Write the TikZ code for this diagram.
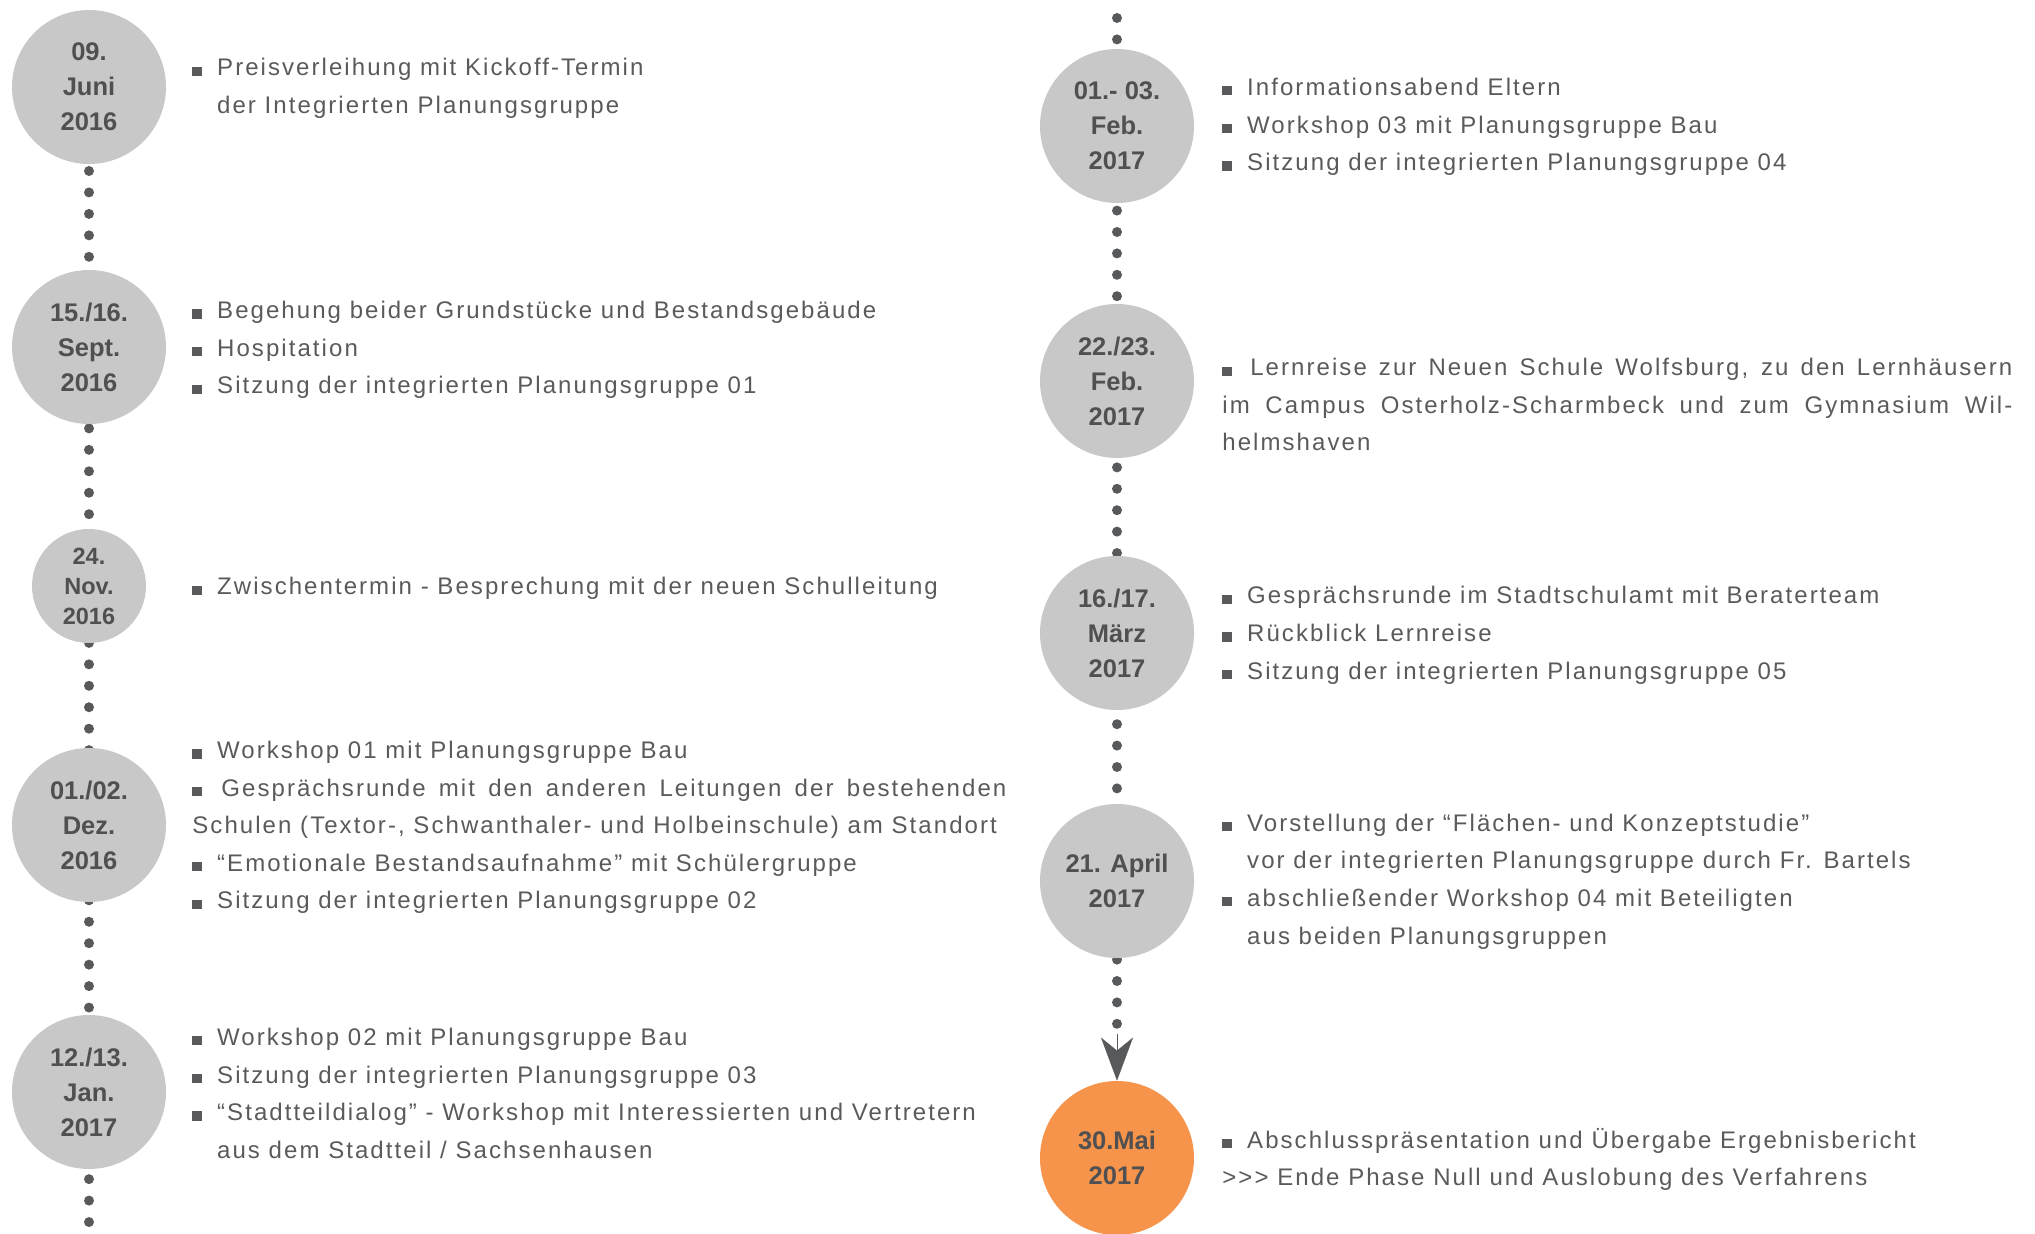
\documentclass[tikz,border=0pt]{standalone}
\usepackage{fontspec}
\usepackage{xcolor}
\usepackage{tikz}
\usetikzlibrary{arrows.meta,backgrounds}
\setmainfont{Liberation Sans}
\newfontfamily\bodyfont{Liberation Sans}[LetterSpace=8.6]
\definecolor{txtgray}{HTML}{5A5A5C}
\definecolor{dategray}{HTML}{505052}
\definecolor{dotgray}{HTML}{58595B}
\definecolor{circgray}{HTML}{C8C8C8}
\definecolor{orangec}{HTML}{F5944A}
\newcommand{\blt}{\rule{4.6pt}{4.6pt}\hspace{7.8pt plus 2pt}}
\newcommand{\ind}{\hspace*{12.4pt}}
\tikzset{
  date/.style={circle,fill=circgray,minimum size=77pt,inner sep=0pt,align=center,text=dategray,
    font=\bfseries\fontsize{12.75pt}{17.5pt}\selectfont},
  smalldate/.style={date,minimum size=57pt,font=\bfseries\fontsize{11.75pt}{15pt}\selectfont},
  enddate/.style={date,fill=orangec},
  txt/.style={anchor=base west,inner sep=0pt,text=txtgray,font=\bodyfont\fontsize{12pt}{18.8pt}\selectfont},
  dotline/.style={dotgray,line width=5pt,line cap=round,dash pattern=on 0pt off 10.725pt},
}

\begin{document}
\begin{tikzpicture}[x=0.5pt,y=-0.5pt]
  \useasboundingbox (0,0) rectangle (2035,1234);
  \node[date] (d1) at (89,87) {09.\\Juni\\2016};
  \node[date] (d2) at (89,347) {15./16.\\Sept.\\2016};
  \node[smalldate] (d3) at (89,586) {24.\\Nov.\\2016};
  \node[date] (d4) at (89,825) {01./02.\\Dez.\\2016};
  \node[date] (d5) at (89,1092) {12./13.\\Jan.\\2017};
  \node[date] (d6) at (1117,126) {01.- 03.\\Feb.\\2017};
  \node[date] (d7) at (1117,381) {22./23.\\Feb.\\2017};
  \node[date] (d8) at (1117,633) {16./17.\\März\\2017};
  \node[date] (d9) at (1117,881) {21. April\\2017};
  \node[enddate] (d10) at (1117,1158) {30.Mai\\2017};
  \coordinate (lend) at (89,1240);
  \coordinate (rtop) at (1117,0);
  \coordinate (rend) at (1117,1034);
  \begin{scope}[on background layer]
    \draw[dotline,dash phase=0.9pt] (d1.center) -- (lend);
    \draw[dotline,dash pattern=on 0pt off 10.7pt,dash phase=1.7pt] (rtop) -- (rend);
  \end{scope}
  \draw[dotgray,line width=0.1pt,-{Stealth[length=21.5pt,width=16pt,inset=6.5pt]}] (rend) -- (d10.north);

  \node[txt] (e1) at (192,76) {\parbox[t]{410pt}{\blt Preisverleihung mit Kickoff-Termin\\
    \ind der Integrierten Planungsgruppe}};
  \node[txt] (e2) at (192,318.7) {\parbox[t]{410pt}{\blt Begehung beider Grundstücke und Bestandsgebäude\\
    \blt Hospitation\\
    \blt Sitzung der integrierten Planungsgruppe 01}};
  \node[txt] (e3) at (192,595) {\parbox[t]{410pt}{\blt Zwischentermin - Besprechung mit der neuen Schulleitung}};
  \node[txt] (e4) at (192,758.6) {\parbox[t]{410pt}{\blt Workshop 01 mit Planungsgruppe Bau\\
    \makebox[407pt][s]{\blt Gesprächsrunde mit den anderen Leitungen der bestehenden}\\
    Schulen (Textor-, Schwanthaler- und Holbeinschule) am Standort\\
    \blt “Emotionale Bestandsaufnahme” mit Schülergruppe\\
    \blt Sitzung der integrierten Planungsgruppe 02}};
  \node[txt] (e5) at (192,1045.4) {\parbox[t]{410pt}{\blt Workshop 02 mit Planungsgruppe Bau\\
    \blt Sitzung der integrierten Planungsgruppe 03\\
    \blt “Stadtteildialog” - Workshop mit Interessierten und Vertretern\\
    \ind aus dem Stadtteil / Sachsenhausen}};

  \node[txt] (e6) at (1222,95.5) {\parbox[t]{410pt}{\blt Informationsabend Eltern\\
    \blt Workshop 03 mit Planungsgruppe Bau\\
    \blt Sitzung der integrierten Planungsgruppe 04}};
  \node[txt] (e7) at (1222,375.8) {\parbox[t]{410pt}{\makebox[395pt][s]{\blt Lernreise zur Neuen Schule Wolfsburg, zu den Lernhäusern}\\
    \makebox[395pt][s]{im Campus Osterholz-Scharmbeck und zum Gymnasium Wil-}\\
    helmshaven}};
  \node[txt] (e8) at (1222,604) {\parbox[t]{410pt}{\blt Gesprächsrunde im Stadtschulamt mit Beraterteam\\
    \blt Rückblick Lernreise\\
    \blt Sitzung der integrierten Planungsgruppe 05}};
  \node[txt] (e9) at (1222,831.3) {\parbox[t]{410pt}{\blt Vorstellung der “Flächen- und Konzeptstudie”\\
    \ind vor der integrierten Planungsgruppe durch Fr. Bartels\\
    \blt abschließender Workshop 04 mit Beteiligten\\
    \ind aus beiden Planungsgruppen}};
  \node[txt] (e10) at (1222,1148) {\parbox[t]{410pt}{\blt Abschlusspräsentation und Übergabe Ergebnisbericht\\
    >>> Ende Phase Null und Auslobung des Verfahrens}};
\end{tikzpicture}
\end{document}
